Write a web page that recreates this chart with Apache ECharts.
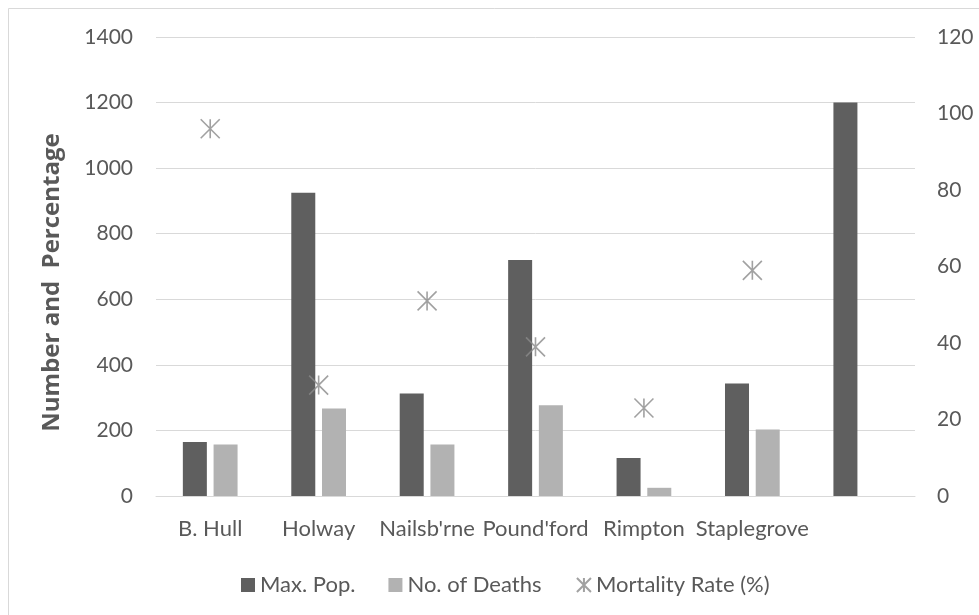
<!DOCTYPE html>
<html>
<head>
<meta charset="utf-8">
<script src="https://cdn.jsdelivr.net/npm/echarts@6/dist/echarts.min.js"></script>
<style>
  html, body { margin: 0; padding: 0; background: #ffffff; }
  #chart { width: 979px; height: 615px; }
</style>
</head>
<body>
<div id="chart"></div>
<script>
// Parish figures
const categories = ['B. Hull', 'Holway', "Nailsb'rne", "Pound'ford", 'Rimpton', 'Staplegrove', ''];
const maxPop = [165, 925, 313, 720, 116, 343, 1200];
const deaths = [157, 267, 157, 277, 25, 203, null];
const mortalityRate = [96, 29, 51, 39, 23, 59, null];

const leftTicks = { min: 0, max: 1400, interval: 200 };
const rightTicks = { min: 0, max: 120, interval: 20 };

const FONT = 'Lato';
const TEXT = '#595959';
const GRIDLINE = '#d9d9d9';

// asterisk marker: two diagonals plus a vertical stroke
const STAR = 'path://M0,0L10,10M10,0L0,10M5,0L5,10';

const chart = echarts.init(document.getElementById('chart'), null, { renderer: 'canvas' });

chart.setOption({
  animation: false,
  backgroundColor: '#ffffff',
  textStyle: { fontFamily: FONT, color: TEXT },
  graphic: [{
    type: 'rect',
    shape: { x: 8.5, y: 8.5, width: 1000, height: 700 },
    style: { fill: 'none', stroke: GRIDLINE, lineWidth: 1 },
    silent: true
  }],
  grid: { left: 156, right: 64, top: 37, bottom: 119 },
  legend: {
    left: 236,
    top: 569,
    itemWidth: 14,
    itemHeight: 14,
    itemGap: 33,
    textStyle: { fontFamily: FONT, fontSize: 22, color: TEXT },
    data: [
      { name: 'Max. Pop.', icon: 'rect' },
      { name: 'No. of Deaths', icon: 'rect' },
      { name: 'Mortality Rate (%)', icon: STAR }
    ]
  },
  xAxis: {
    type: 'category',
    data: categories,
    axisLine: { show: true, lineStyle: { color: GRIDLINE, width: 1 } },
    axisTick: { show: false },
    axisLabel: { interval: 0, margin: 22, fontFamily: FONT, fontSize: 22, color: TEXT }
  },
  yAxis: [{
    type: 'value',
    min: leftTicks.min,
    max: leftTicks.max,
    interval: leftTicks.interval,
    name: 'Number and  Percentage',
    nameLocation: 'middle',
    nameGap: 92,
    nameTextStyle: {
      fontFamily: 'Open Sans', fontSize: 24, fontWeight: 'bold', color: TEXT,
      padding: [0, 32, 0, 0]
    },
    axisLine: { show: false },
    axisTick: { show: false },
    axisLabel: { margin: 23, fontFamily: FONT, fontSize: 21, color: TEXT, formatter: v => String(v) },
    splitLine: { lineStyle: { color: GRIDLINE, width: 1 } }
  }, {
    type: 'value',
    min: rightTicks.min,
    max: rightTicks.max,
    interval: rightTicks.interval,
    axisLine: { show: false },
    axisTick: { show: false },
    axisLabel: { margin: 22, fontFamily: FONT, fontSize: 21, color: TEXT, formatter: v => String(v) },
    splitLine: { show: false }
  }],
  series: [{
    name: 'Max. Pop.',
    type: 'bar',
    data: maxPop,
    barWidth: 24,
    barGap: '28%',
    itemStyle: { color: '#5f5f5f' }
  }, {
    name: 'No. of Deaths',
    type: 'bar',
    data: deaths,
    barWidth: 24,
    barGap: '28%',
    itemStyle: { color: '#b2b2b2' }
  }, {
    name: 'Mortality Rate (%)',
    type: 'scatter',
    yAxisIndex: 1,
    data: mortalityRate,
    symbol: STAR,
    symbolSize: 19,
    itemStyle: { color: 'none', borderColor: '#8a8a8a', borderWidth: 1.6 },
    z: 5
  }]
});
</script>
</body>
</html>
